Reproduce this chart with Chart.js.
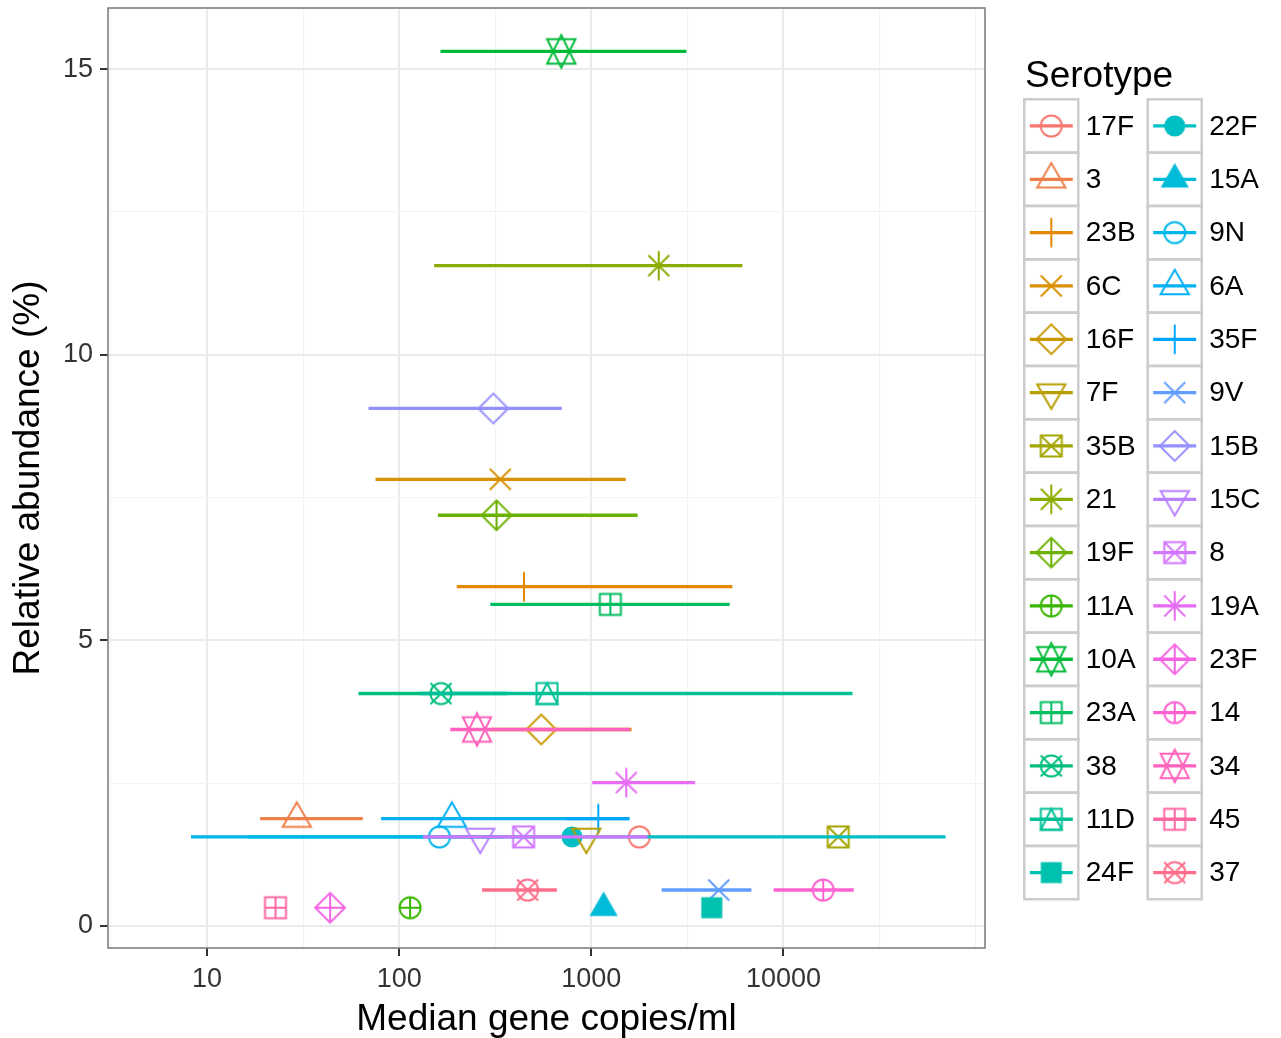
<!DOCTYPE html>
<html>
<head>
<meta charset="utf-8">
<script src="https://cdn.jsdelivr.net/npm/chart.js@4.4.1/dist/chart.umd.min.js"></script>
<style>
  html, body { margin: 0; padding: 0; background: #fff; }
  #wrap { width: 1281px; height: 1038px; }
</style>
</head>
<body>
<div id="wrap"><canvas id="chart" width="1281" height="1038"></canvas></div>
<script>
// --- data ---
const serotypes = ['17F', '3', '23B', '6C', '16F', '7F', '35B', '21', '19F', '11A', '10A', '23A', '38', '11D', '24F',
                   '22F', '15A', '9N', '6A', '35F', '9V', '15B', '15C', '8', '19A', '23F', '14', '34', '45', '37'];
// median gene copies/ml (x)
const medianCopies = [1778, 29.3, 446, 336, 549, 942, 19280, 2244, 321, 114, 698, 1256, 165, 588, 4236,
                      793, 1159, 162, 188, 1087, 4603, 309, 264, 444, 1521, 43.7, 16110, 254, 22.7, 466];
// relative abundance % (y)
const abundance = [1.56, 1.88, 5.94, 7.82, 3.44, 1.56, 1.56, 11.56, 7.19, 0.32, 15.31, 5.63, 4.07, 4.07, 0.32,
                   1.56, 0.32, 1.56, 1.88, 1.88, 0.63, 9.06, 1.56, 1.56, 2.51, 0.32, 0.63, 3.44, 0.32, 0.63];
// horizontal range (null = no bar)
const lowCopies = [null, 18.9, 199.5, 75.3, 298, null, null, 152, 159, null, 164, 298, 61.4, 128.6, null,
                   16.35, null, 8.25, 80.5, 733, 2323, 69.2, null, 133, 1011, null, 8895, 184.5, null, 270];
const highCopies = [null, 64.7, 5420, 1511, 1620, null, null, 6109, 1742, null, 3126, 5250, 365, 22860, null,
                    69800, null, 348, 1578, 1578, 6813, 703, null, 1958, 3467, null, 23230, 1596, null, 662];

const xTicks = [10, 100, 1000, 10000];
const xTickLabels = ['10', '100', '1000', '10000'];
const yTicks = [0, 5, 10, 15];
const yTickLabels = ['0', '5', '10', '15'];

const xLimits = [3.05, 112000];
const yLimits = [-0.385, 16.07];

// --- ggplot-like hue palette ---
function hcl(h, c, l) {
  const hr = h * Math.PI / 180;
  const U = c * Math.cos(hr), V = c * Math.sin(hr);
  const Xn = 95.047, Yn = 100, Zn = 108.883;
  const un = 4 * Xn / (Xn + 15 * Yn + 3 * Zn), vn = 9 * Yn / (Xn + 15 * Yn + 3 * Zn);
  const Y = Yn * Math.pow((l + 16) / 116, 3);
  const u = U / (13 * l) + un, v = V / (13 * l) + vn;
  const X = 9 * Y * u / (4 * v);
  const Z = -X / 3 - 5 * Y + 3 * Y / v;
  const x = X / 100, y = Y / 100, z = Z / 100;
  const lin = [3.240479 * x - 1.53715 * y - 0.498535 * z,
               -0.969256 * x + 1.875992 * y + 0.041556 * z,
               0.055648 * x - 0.204043 * y + 1.057311 * z];
  const gam = t => t <= 0.0031308 ? 12.92 * t : 1.055 * Math.pow(t, 1 / 2.4) - 0.055;
  return '#' + lin.map(t => {
    const k = Math.round(Math.min(1, Math.max(0, gam(t))) * 255);
    return k.toString(16).padStart(2, '0');
  }).join('');
}
const colors = serotypes.map((s, i) => hcl(15 + 360 * i / serotypes.length, 100, 65));
const shapeOf = i => (i < 17 ? i + 1 : i - 16); // R pch 1..17 then 1..13

// --- R point symbols ---
const R = 10.5;
function drawShape(g, pch, cx, cy, col) {
  const S2 = Math.SQRT2, T0 = 1.5551, T1 = 1.3468, T2 = 0.7776;
  g.strokeStyle = col; g.fillStyle = col; g.lineWidth = 2; g.lineJoin = 'miter';
  const seg = (x1, y1, x2, y2) => { g.beginPath(); g.moveTo(cx + x1, cy + y1); g.lineTo(cx + x2, cy + y2); g.stroke(); };
  const poly = (pts, fill) => {
    g.beginPath();
    pts.forEach(([x, y], k) => (k ? g.lineTo(cx + x, cy + y) : g.moveTo(cx + x, cy + y)));
    g.closePath();
    fill ? g.fill() : g.stroke();
  };
  const circle = fill => { g.beginPath(); g.arc(cx, cy, R, 0, 2 * Math.PI); fill ? g.fill() : g.stroke(); };
  const square = fill => (fill ? g.fillRect(cx - R, cy - R, 2 * R, 2 * R) : g.strokeRect(cx - R, cy - R, 2 * R, 2 * R));
  const plus = a => { seg(-a, 0, a, 0); seg(0, -a, 0, a); };
  const cross = a => { seg(-a, -a, a, a); seg(-a, a, a, -a); };
  const up = [[0, -T0 * R], [T1 * R, T2 * R], [-T1 * R, T2 * R]];
  const down = up.map(([x, y]) => [x, -y]);
  const diamond = [[-S2 * R, 0], [0, -S2 * R], [S2 * R, 0], [0, S2 * R]];
  switch (pch) {
    case 1: circle(false); break;
    case 2: poly(up); break;
    case 3: plus(S2 * R); break;
    case 4: cross(R); break;
    case 5: poly(diamond); break;
    case 6: poly(down); break;
    case 7: square(false); cross(R); break;
    case 8: cross(R); plus(S2 * R); break;
    case 9: poly(diamond); plus(S2 * R); break;
    case 10: circle(false); plus(R); break;
    case 11: {
      const yc = 0.5 * (T0 + T2) * R;
      poly([[0, -T0 * R], [T1 * R, yc], [-T1 * R, yc]]);
      poly([[0, T0 * R], [T1 * R, -yc], [-T1 * R, -yc]]);
      break;
    }
    case 12: square(false); plus(R); break;
    case 13: circle(false); cross(R); break;
    case 14: square(false); poly([[0, -R], [R, R], [-R, R]]); break;
    case 15: square(true); break;
    case 16: circle(true); break;
    case 17: poly(up, true); break;
  }
}
function shapeImage(pch, col) {
  const cv = document.createElement('canvas');
  cv.width = 44; cv.height = 44;
  drawShape(cv.getContext('2d'), pch, 22, 22, col);
  return cv;
}
const shapeImages = serotypes.map((s, i) => shapeImage(shapeOf(i), colors[i]));

// --- datasets ---
const datasets = [];
serotypes.forEach((s, i) => {
  datasets.push({
    label: s,
    data: [{ x: medianCopies[i], y: abundance[i] }],
    pointStyle: shapeImages[i],
    pointRadius: 12,
    order: 100
  });
  if (lowCopies[i] !== null) {
    datasets.push({
      label: s + ' range',
      data: [{ x: lowCopies[i], y: abundance[i] }, { x: highCopies[i], y: abundance[i] }],
      showLine: true,
      borderColor: colors[i],
      borderWidth: 3.3,
      borderCapStyle: 'butt',
      pointRadius: 0,
      order: -i
    });
  }
});

// major + minor (half-decade / half-step) breaks like ggplot
const xBreaks = [];
for (let k = 0; k <= 10; k++) {
  const v = Math.pow(10, k / 2);
  if (v >= xLimits[0] && v <= xLimits[1]) xBreaks.push(v);
}
const yBreaks = [];
for (let v = 0; v <= yLimits[1]; v += 2.5) yBreaks.push(v);

const isMajorX = v => xTicks.some(t => Math.abs(Math.log10(t) - Math.log10(v)) < 1e-6);
const isMajorY = v => yTicks.some(t => Math.abs(t - v) < 1e-6);

const gridColor = major => (major ? '#EBEBEB' : '#F3F3F3');
const gridWidth = major => (major ? 2 : 1.1);

const panelAndLegend = {
  id: 'panelAndLegend',
  afterDatasetsDraw(chart) {
    const { ctx, chartArea: a } = chart;
    ctx.save();
    ctx.strokeStyle = '#7F7F7F';
    ctx.lineWidth = 1.6;
    ctx.strokeRect(a.left, a.top, a.right - a.left, a.bottom - a.top);
    ctx.restore();
  },
  afterDraw(chart) {
    const { ctx, chartArea: a } = chart;
    const rows = 15, keyW = 54, keyH = 53.33, top = 99.3;
    const colX = [a.right + 39.3, a.right + 162.7];
    ctx.save();
    ctx.fillStyle = '#000';
    ctx.font = '37px "Liberation Sans", Arial, sans-serif';
    ctx.textAlign = 'left';
    ctx.textBaseline = 'alphabetic';
    ctx.fillText('Serotype', a.right + 40, 87);

    serotypes.forEach((s, i) => {
      const x0 = colX[Math.floor(i / rows)], y0 = top + (i % rows) * keyH;
      ctx.fillStyle = '#fff';
      ctx.fillRect(x0, y0, keyW, keyH);
    });
    serotypes.forEach((s, i) => {
      const x0 = colX[Math.floor(i / rows)], y0 = top + (i % rows) * keyH;
      const cx = x0 + keyW / 2, cy = y0 + keyH / 2;
      ctx.strokeStyle = '#CCCCCC';
      ctx.lineWidth = 2.5;
      ctx.strokeRect(x0, y0, keyW, keyH);
      ctx.drawImage(shapeImages[i], cx - 22, cy - 22);
      ctx.strokeStyle = colors[i];
      ctx.lineWidth = 3.3;
      ctx.beginPath();
      ctx.moveTo(x0 + 5.5, cy);
      ctx.lineTo(x0 + keyW - 5.5, cy);
      ctx.stroke();
      ctx.fillStyle = '#000';
      ctx.font = '28px "Liberation Sans", Arial, sans-serif';
      ctx.textBaseline = 'middle';
      ctx.fillText(s, x0 + 61.5, cy + 1);
    });
    ctx.restore();
  }
};

Chart.defaults.font.family = '"Liberation Sans", Arial, Helvetica, sans-serif';

new Chart(document.getElementById('chart'), {
  type: 'scatter',
  data: { datasets },
  plugins: [panelAndLegend],
  options: {
    responsive: false,
    animation: false,
    events: [],
    layout: { autoPadding: false, padding: { left: 0, top: 8, right: 296, bottom: 0 } },
    plugins: { legend: { display: false }, tooltip: { enabled: false } },
    scales: {
      x: {
        type: 'logarithmic',
        min: xLimits[0],
        max: xLimits[1],
        afterBuildTicks: sc => { sc.ticks = xBreaks.map(v => ({ value: v })); },
        afterFit: sc => { sc.height = 90; sc.paddingLeft = 0; sc.paddingRight = 0; },
        border: { display: false },
        grid: {
          color: c => gridColor(c.tick && isMajorX(c.tick.value)),
          lineWidth: c => gridWidth(c.tick && isMajorX(c.tick.value)),
          tickColor: c => (c.tick && isMajorX(c.tick.value) ? '#333333' : 'rgba(0,0,0,0)'),
          tickLength: 8,
          tickWidth: 2
        },
        ticks: {
          autoSkip: false,
          maxRotation: 0,
          padding: 7,
          color: '#333333',
          font: { size: 27 },
          callback: v => {
            const k = xTicks.findIndex(t => Math.abs(Math.log10(t) - Math.log10(v)) < 1e-6);
            return k >= 0 ? xTickLabels[k] : '';
          }
        },
        title: {
          display: true,
          text: 'Median gene copies/ml',
          color: '#000',
          font: { size: 37 },
          padding: { top: 0, bottom: -4 }
        }
      },
      y: {
        type: 'linear',
        min: yLimits[0],
        max: yLimits[1],
        afterBuildTicks: sc => { sc.ticks = yBreaks.map(v => ({ value: v })); },
        afterFit: sc => { sc.width = 108; sc.paddingTop = 0; sc.paddingBottom = 0; },
        border: { display: false },
        grid: {
          color: c => gridColor(c.tick && isMajorY(c.tick.value)),
          lineWidth: c => gridWidth(c.tick && isMajorY(c.tick.value)),
          tickColor: c => (c.tick && isMajorY(c.tick.value) ? '#333333' : 'rgba(0,0,0,0)'),
          tickLength: 8,
          tickWidth: 2
        },
        ticks: {
          autoSkip: false,
          padding: 7,
          color: '#333333',
          font: { size: 27 },
          callback: v => {
            const k = yTicks.findIndex(t => Math.abs(t - v) < 1e-6);
            return k >= 0 ? yTickLabels[k] : '';
          }
        },
        title: {
          display: true,
          text: 'Relative abundance (%)',
          color: '#000',
          font: { size: 37 },
          padding: { top: 7, bottom: 0 }
        }
      }
    }
  }
});
</script>
</body>
</html>
